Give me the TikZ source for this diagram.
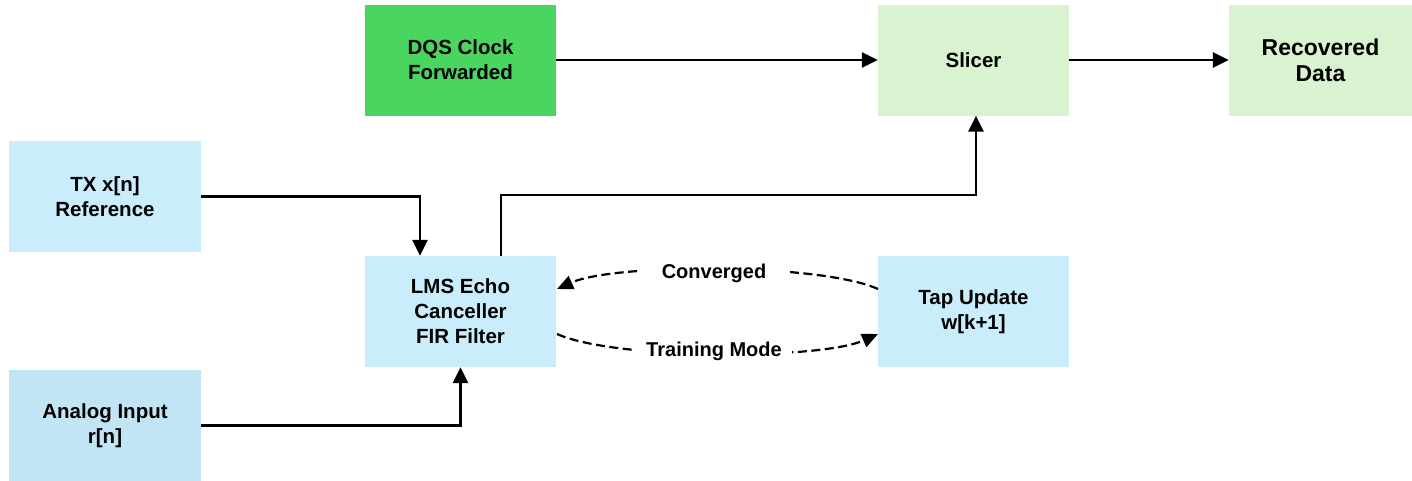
\documentclass[tikz,border=0pt]{standalone}
\usepackage{fontspec}
\setmainfont{Liberation Sans}
\usetikzlibrary{arrows.meta}

\definecolor{clkgreen}{HTML}{4AD560}
\definecolor{palegreen}{HTML}{D9F2D0}
\definecolor{paleblue}{HTML}{CAEDFB}
\definecolor{inblue}{HTML}{C1E5F5}

\tikzset{
  blk/.style={draw=none, minimum width=191pt, minimum height=111pt, inner sep=0pt,
    align=center, font=\fontsize{20.5}{25}\selectfont\bfseries},
  flow/.style={line width=2.6pt, -{Triangle[length=16pt,width=15pt]}},
  loop/.style={line width=2.2pt, dash pattern=on 9pt off 4.5pt, -{Triangle[length=16pt,width=14pt]}},
  tag/.style={fill=white, inner ysep=3pt, font=\fontsize{20}{24}\selectfont\bfseries}
}

\begin{document}
\begin{tikzpicture}[x=1pt, y=-1pt]
\useasboundingbox (0,0) rectangle (1412,480);

% blocks
\node[blk, fill=clkgreen] (dqs) at (460.5,60) {DQS Clock\\Forwarded};
\node[blk, fill=palegreen] (slicer) at (973.5,60) {Slicer};
\node[blk, fill=palegreen, minimum width=183pt, font=\fontsize{23}{26}\selectfont\bfseries] (rec) at (1320.5,60) {Recovered\\Data};
\node[blk, fill=paleblue, minimum width=192pt] (tx) at (105,196.5) {TX x[n]\\Reference};
\node[blk, fill=paleblue] (lms) at (460.5,311.5) {LMS Echo\\Canceller\\FIR Filter};
\node[blk, fill=paleblue] (tap) at (973.5,311.5) {Tap Update\\w[k+1]};
\node[blk, fill=inblue, minimum width=192pt] (ain) at (105,425.5) {Analog Input\\r[n]};

% data path
\draw[flow] (dqs.east) -- (slicer.west);
\draw[flow] (slicer.east) -- (rec.west);
\draw[flow] (tx.east) -| ([xshift=-40.5pt]lms.north);
\draw[flow] (ain.east) -| (lms.south);
\draw[flow] ([xshift=40.5pt]lms.north) |- (976,195) -- ([xshift=2.5pt]slicer.south);

% adaptation loop
\coordinate (tapc) at (878,289);
\coordinate (lmsc) at (557,289);
\coordinate (lmst) at (557,334);
\coordinate (tapt) at (878,334);
\draw[loop] (tapc) .. controls (820,263) and (615,263) .. (lmsc);
\draw[loop] (lmst) .. controls (615,360) and (820,360) .. (tapt);
\node[tag, inner xsep=24pt] (conv) at (714,273) {Converged};
\node[tag, inner xsep=10pt] (train) at (714,351) {Training Mode};
\end{tikzpicture}
\end{document}
